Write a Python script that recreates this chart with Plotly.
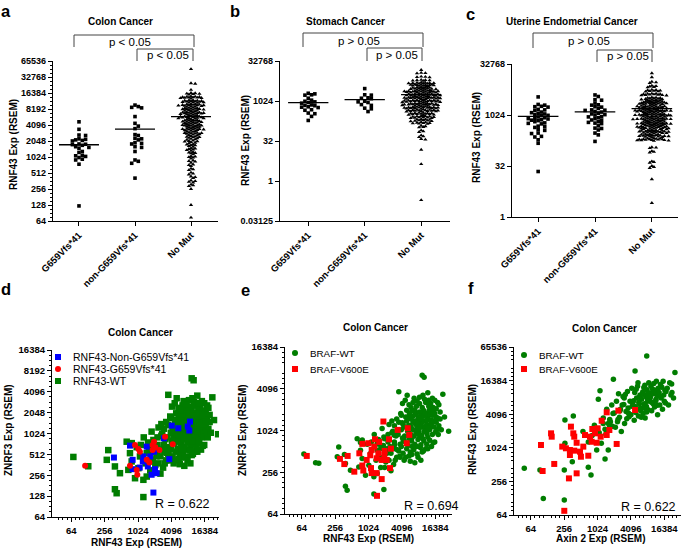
import numpy as np
import plotly.graph_objects as go

W, H = 685, 549
FONT = "Liberation Sans"

# ---------------- data (RSEM values) ----------------
mut_groups = ["G659Vfs*41", "non-G659Vfs*41", "No Mut"]

colon_g659 = [4700, 3400, 2650, 2600, 2250, 2200, 2150, 2100, 2050, 1800, 1780, 1750, 1700,
              1600, 1550, 1500, 1300, 1250, 1100, 1080, 1050, 1000, 930, 900, 750, 123]
colon_non = [9700, 9100, 8800, 8600, 5900, 4400, 3900, 3500, 2700, 2600, 2300, 2250, 2150,
             1900, 1850, 1800, 1600, 1550, 1300, 900, 850, 780, 410]
colon_nomut = [
    46000, 25000, 24500, 18800,
    16400, 16200, 16000, 15800, 15600, 15400,
    14200, 14000, 13900, 13800, 13700, 13600, 13500, 13400, 13300, 13200, 13100, 12900,
    12000, 11900, 11800, 11700, 11600, 11500, 11400, 11300, 11200, 11100, 11000, 10900, 10800, 10700,
    10200, 10100, 10000, 9900, 9800, 9750, 9700, 9650, 9600, 9500, 9400, 9300, 9200, 9100, 9000,
    8700, 8600, 8500, 8400, 8300, 8250, 8200, 8150, 8100, 8000, 7900, 7800, 7700, 7600, 7500, 7400,
    7200, 7100, 7050, 7000, 6950, 6900, 6850, 6800, 6750, 6700, 6650, 6600, 6500, 6400, 6300, 6200,
    6100, 6000, 5950, 5900, 5850, 5800, 5750, 5700, 5650, 5600, 5550, 5500, 5450, 5400, 5300, 5200,
    5100, 5050, 5000, 4950, 4900, 4850, 4800, 4750, 4700, 4650, 4600, 4550, 4500, 4450, 4400, 4350,
    4250, 4200, 4150, 4100, 4080, 4050, 4000, 3980, 3950, 3900, 3850, 3800, 3750, 3700, 3650,
    3550, 3500, 3480, 3450, 3420, 3400, 3380, 3350, 3300, 3250, 3200, 3150, 3100, 3050,
    2950, 2920, 2900, 2880, 2850, 2820, 2800, 2750, 2700, 2650, 2600, 2550,
    2480, 2450, 2420, 2400, 2350, 2300, 2250, 2200, 2150,
    2080, 2050, 2020, 2000, 1950, 1900, 1850,
    1780, 1750, 1720, 1700, 1650, 1600,
    1500, 1470, 1450, 1420, 1380, 1340,
    1270, 1240, 1220, 1200, 1150,
    1060, 1040, 1020, 1000, 960,
    880, 860, 840, 800,
    740, 720, 690,
    620, 600, 580,
    520, 500, 480,
    440, 430, 410,
    370, 360, 350, 340,
    310, 300, 290,
    256, 128, 74,
]

stomach_g659 = [2000, 1900, 1750, 1700, 1300, 1000, 950, 900, 850, 730, 700, 680, 620, 600,
                480, 460, 360, 340, 270, 190, 580, 1100]
stomach_non = [3000, 1750, 1700, 1350, 1300, 1250, 1000, 950, 900, 750, 700, 550, 520, 410]
stomach_nomut = [
    15000,
    11800, 11500, 11200,
    8500, 8300, 8100, 7900,
    6400, 6300, 6200, 6100, 6000, 5900,
    5100, 5000, 4950, 4900, 4850, 4800, 4750, 4700, 4650, 4600,
    4300, 4250, 4200, 4150, 4100, 4050, 4000, 3950, 3900, 3850, 3800, 3750,
    3400, 3350, 3300, 3250, 3200, 3150, 3100, 3050, 3000, 2950, 2900, 2850, 2800, 2750, 2700, 2650,
    2550, 2500, 2480, 2450, 2420, 2400, 2380, 2350, 2320, 2300, 2280, 2250, 2220, 2200, 2180, 2150, 2120, 2100,
    1950, 1920, 1900, 1880, 1860, 1840, 1820, 1800, 1780, 1760, 1740, 1720, 1700, 1680, 1660, 1640, 1620, 1600, 1580, 1560,
    1480, 1460, 1440, 1420, 1400, 1390, 1380, 1370, 1360, 1350, 1340, 1330, 1320, 1310, 1300, 1280, 1260, 1240, 1220, 1200,
    1120, 1100, 1090, 1080, 1070, 1060, 1050, 1040, 1030, 1020, 1010, 1000, 990, 980, 970, 960, 950, 940, 920, 900,
    850, 840, 830, 820, 810, 800, 790, 780, 775, 770, 765, 760, 750, 740, 730, 720, 710, 700, 690, 680,
    640, 630, 620, 610, 600, 595, 590, 585, 580, 575, 570, 565, 560, 555, 550, 540, 530, 520,
    490, 480, 475, 470, 465, 460, 455, 450, 445, 440, 435, 430, 425, 420, 415, 410,
    370, 365, 360, 355, 350, 345, 340, 335, 330, 325, 320, 315, 310, 305,
    280, 275, 270, 265, 260, 256, 252, 248, 244, 240, 236, 232,
    212, 208, 204, 200, 196, 192, 188, 184, 180, 176,
    165, 160, 156, 152, 150, 148, 145, 142,
    120, 115, 108, 104,
    80, 74, 70,
    52, 48, 45,
    38, 36,
    15, 4.3, 0.19,
]

uterine_g659 = [3500, 2100, 2000, 1850, 1800, 1750, 1500, 1450, 1400, 1250, 1200, 1150, 1050, 1000,
                980, 850, 820, 800, 780, 740, 720, 700, 600, 580, 560, 480, 460, 440, 380, 360,
                300, 290, 240, 230, 190, 150, 22, 650, 900, 1100]
uterine_non = [4000, 3600, 2900, 2800, 2300, 2050, 2000, 1800, 1750, 1450, 1400, 1420, 1150, 1100,
               1020, 920, 900, 730, 720, 650, 590, 570, 490, 420, 410, 370, 300, 265, 170, 1300,
               1250, 1600, 850, 800, 1050, 620]
uterine_nomut = [
    17500, 13300,
    9800, 9400, 9000,
    7500, 7300, 7100, 6900, 6700,
    5700, 5600, 5500, 5400, 5300, 5200, 5100, 5000,
    4400, 4350, 4300, 4250, 4200, 4150, 4100, 4050, 4000, 3950, 3900, 3850,
    3400, 3350, 3300, 3250, 3200, 3150, 3100, 3050, 3000, 2950, 2900, 2850, 2800, 2750, 2700, 2650,
    2600, 2560, 2520, 2480, 2450, 2420, 2400, 2380, 2350, 2320, 2300, 2280, 2250, 2220, 2200, 2180, 2150, 2120, 2100, 2080,
    1980, 1950, 1920, 1900, 1880, 1860, 1840, 1820, 1800, 1780, 1760, 1740, 1720, 1700, 1680, 1660, 1640, 1620, 1600, 1580, 1560, 1540,
    1500, 1480, 1460, 1440, 1420, 1410, 1400, 1390, 1380, 1370, 1360, 1350, 1340, 1330, 1320, 1310, 1300, 1280, 1260, 1240, 1220, 1200, 1180, 1160,
    1120, 1110, 1100, 1090, 1080, 1070, 1060, 1050, 1040, 1030, 1024, 1020, 1010, 1000, 990, 980, 970, 960, 950, 940, 930, 920, 910, 900,
    860, 850, 840, 830, 820, 810, 800, 795, 790, 785, 780, 775, 770, 765, 760, 750, 740, 730, 720, 710, 700, 690, 680, 670,
    650, 645, 640, 630, 620, 610, 600, 595, 590, 585, 580, 575, 570, 565, 560, 555, 550, 545, 540, 530, 520, 515, 510, 505,
    490, 485, 480, 475, 470, 465, 460, 455, 450, 445, 440, 435, 430, 425, 420, 415, 410, 405, 400, 395, 390, 385,
    370, 365, 360, 355, 350, 345, 340, 338, 335, 332, 330, 326, 322, 318, 314, 310, 306, 302, 298, 294,
    280, 276, 272, 268, 264, 260, 256, 252, 250, 248, 246, 244, 242, 240, 236, 232, 228, 224,
    212, 208, 205, 202, 200, 198, 196, 194, 192, 190, 188, 186, 184, 182, 180, 176,
    115, 112, 108,
    88, 84, 80,
    44, 42, 40,
    32, 30, 28,
    13, 2.6,
]

# Colon cancer, RNF43 (x) vs ZNRF3 (y) by RNF43 status
d_wt_rnf43 = [70, 130, 298, 280, 393, 484, 393, 422, 640, 734, 787, 905, 685, 1040, 1280, 1470, 1280,
              1800, 1940, 790, 970, 1110, 1470, 1650, 2200, 2600, 2100, 1700, 2900, 3300, 1300, 1550,
              1150, 2400, 2700, 1900, 2300, 3000, 3400, 2600, 3100, 1400, 2000, 5800, 7000, 9000, 4800,
              6200, 11000, 14000, 16000, 9500, 9500, 10300, 3600, 5100, 22400, 28500, 16500, 12000, 8500,
              14500, 6800, 10500, 16000, 18000, 4200, 5500, 6500, 7500, 8500, 9500, 11000, 12500, 13500,
              15000, 17000, 19000, 7000, 10000, 14000, 5000, 4000, 4800, 5600, 6400, 7200, 8000, 9000,
              10000, 11000, 12000, 13000, 14500, 16000, 18000, 8500, 6000, 3300, 20000, 3000, 3600, 4300,
              5000, 5700, 6500, 7300, 8200, 9200, 10300, 11500, 12800, 14000, 15500, 17000, 19000, 7800,
              6000, 10800, 13200, 2800, 3500, 4000, 4600, 5200, 5900, 6600, 7400, 8300, 9300, 10400, 11600,
              13000, 14500, 17500, 12000, 8800, 6200, 4200, 21000, 3000, 3800, 4500, 5300, 6100, 7000, 8000,
              9000, 10200, 11500, 13000, 15000, 5600, 7600, 3600, 4300, 5000, 5800, 6700, 7700, 8800, 10000,
              12000, 4000, 6300, 4500, 5500, 8000, 3800, 2300, 2500, 2200, 3200, 2700, 3900, 3100, 1700,
              1900, 2400, 1600, 4500, 5300, 6200, 7000, 7900, 8700, 9600, 10600, 11700, 12700, 13800, 15200,
              16800, 6800, 9800, 11000, 12200, 8200, 5600, 14800, 7700, 9800, 12500, 4700, 6000, 20000,
              18500, 24000]
d_wt_znrf3 = [470, 345, 590, 427, 343, 274, 161, 141, 780, 533, 405, 232, 306, 324, 220, 245, 124,
              1090, 826, 744, 650, 478, 533, 405, 560, 480, 360, 300, 330, 420, 900, 760,
              700, 1250, 950, 620, 700, 640, 540, 270, 380, 380, 300, 370, 350, 380, 420,
              460, 560, 600, 700, 500, 6400, 6000, 3700, 3300, 3400, 1000, 975, 3600, 3100,
              3000, 3000, 2900, 2800, 2600, 2500, 2400, 2600, 2300, 2500, 2200, 2600, 2300, 2500,
              2200, 2100, 2400, 2000, 2000, 1950, 2000, 1700, 1600, 1800, 1650, 1750, 1550, 1850,
              1650, 1800, 1600, 1750, 1700, 1800, 1550, 1900, 1500, 1500, 1900, 1200, 1350, 1250,
              1400, 1200, 1350, 1250, 1450, 1300, 1400, 1250, 1450, 1300, 1150, 1350, 1200, 1100,
              1150, 1150, 1200, 1000, 900, 1050, 850, 1000, 900, 1050, 950, 1000, 880, 1000, 920,
              1050, 900, 1050, 820, 820, 800, 800, 1050, 700, 650, 750, 620, 720, 650, 760,
              640, 720, 650, 740, 680, 780, 600, 520, 480, 560, 500, 540, 470, 580, 520,
              560, 600, 600, 380, 440, 420, 420, 900, 600, 480, 850, 1400, 1800, 560, 560,
              430, 380, 650, 1150, 1600, 1950, 1400, 1250, 1650, 1150, 1850, 1450, 2000, 1450, 1400,
              1600, 850, 780, 1000, 1100, 900, 1050, 1900, 2700, 3300, 2800, 2800, 2200, 1500,
              900, 1600]
d_non_rnf43 = [734, 377, 820, 820, 1280, 1250, 1470, 1540, 1700, 1990, 2070, 2220, 1800, 1940, 3000,
               3750, 4150, 5450, 8070, 8870, 8600, 1100]
d_non_znrf3 = [685, 461, 427, 313, 478, 405, 662, 343, 478, 560, 313, 274, 260, 144, 873,
               437, 1330, 1220, 1290, 1520, 1130, 330]
d_g659_rnf43 = [114, 905, 1040, 1110, 734, 970, 995, 1470, 1640, 1880, 1990, 2490, 3150, 4330, 1880, 2100]
d_g659_znrf3 = [350, 700, 613, 560, 350, 306, 260, 427, 391, 700, 780, 590, 923, 715, 590, 650]

# Colon cancer, RNF43 (x) vs ZNRF3 (y) by BRAF status (wild-type = panel d samples without V600E)
e_extra_wt_rnf43 = [3000, 3750, 4150, 5450, 8070, 8870, 8600, 1940, 114, 3150, 4330, 1990, 1470, 734, 377]
e_extra_wt_znrf3 = [873, 437, 1330, 1220, 1290, 1520, 1130, 144, 350, 923, 715, 780, 662, 685, 461]
e_v600e_rnf43 = [79, 313, 375, 431, 568, 792, 826, 792, 1017, 949, 1136, 1168, 1438, 1770, 1458, 1340,
                 1540, 1770, 1975, 2180, 2400, 1900, 3440, 5220, 5560, 5000, 1168, 1438, 2500, 2600,
                 1300, 1600, 2000, 700, 1100]
e_v600e_znrf3 = [440, 399, 336, 440, 261, 320, 271, 657, 671, 385, 294, 249, 249, 204, 117, 765,
                 481, 385, 455, 385, 765, 1380, 1045, 1105, 885, 671, 537, 407, 294, 560,
                 600, 700, 520, 480, 450]

# Colon cancer, Axin2 (x) vs RNF43 (y) by BRAF status
f_wt_axin2 = [49, 94, 108, 258, 258, 699, 782, 1400, 265, 375, 1136, 1060, 1980, 4870, 7900, 25500, 22200,
              265, 360, 1200, 1600, 990, 560, 700, 820, 900, 1100, 1300, 1500, 1700, 1900,
              1300, 1400, 1500, 1600, 1750, 1850, 1950, 1700, 1450,
              2050, 2150, 2250, 2350, 2450, 2550, 2650, 2750, 2850, 2950, 2400, 2600,
              3050, 3150, 3250, 3350, 3450, 3550, 3650, 3800, 3950, 4100, 4250, 4400, 3100, 3700, 4300,
              4600, 4700, 4800, 4900, 5000, 5200, 5400, 5600, 5800, 6000, 6200, 6400, 5100, 5300, 5500,
              5700, 5900, 6100, 6300,
              6600, 6800, 7000, 7200, 7400, 7600, 7800, 8000, 8200, 8400, 8600, 8800, 6700, 7100, 7300,
              7500, 7700, 7900, 8100, 8300, 8500,
              9100, 9400, 9700, 10000, 10300, 10600, 10900, 11200, 11500, 11800, 12100, 12400, 12700,
              9200, 9600, 10100, 10500, 11000, 11600, 12200,
              13200, 13600, 14000, 14400, 14800, 15200, 15600, 16000, 16400, 16800, 17200, 17600, 13800,
              18500, 19500, 20500, 21500, 22500, 24000]
f_wt_rnf43 = [440, 410, 127, 119, 410, 458, 333, 644, 3210, 3800, 10800, 7600, 17300, 24300, 45000, 23000, 14300,
              1235, 576, 1235, 936, 936, 2000, 1300, 1700, 2600, 1900, 2800, 2000, 3300, 2500,
              3500, 2200, 5000, 2800, 3000, 6000, 4200, 2500, 1800,
              4300, 2400, 7000, 3000, 9500, 3600, 5000, 2000, 6000, 8500, 3300, 4700,
              6100, 2800, 9200, 4600, 3400, 10500, 5300, 3700, 7000, 4000, 12000, 6600, 8000, 4300, 5700,
              7100, 3200, 10000, 5600, 4400, 8000, 13000, 3800, 6300, 9000, 4700, 7600, 11500, 5000, 15000,
              6700, 8500, 5300, 3600,
              9300, 4200, 12300, 6300, 3500, 8500, 5600, 11200, 7000, 4900, 15000, 7700, 10200, 6000, 13500,
              5200, 9000, 4500, 8000, 10000, 7300,
              8000, 13000, 4700, 10000, 6300, 14500, 5500, 11000, 7100, 16000, 9000, 4000, 12000,
              8500, 6700, 11500, 9500, 10500, 7600, 5900,
              10000, 6000, 14000, 8000, 12500, 5000, 16000, 9000, 7000, 11000, 6500, 10500, 8500,
              12000, 6000, 15000, 9000, 10000, 8000]
f_v600e_axin2 = [258, 313, 431, 105, 98, 149, 153, 170, 237, 276, 326, 340, 375, 390, 326, 390, 431, 495,
                 515, 568, 609, 699, 750, 826, 803, 923, 989, 1031, 1168, 1218, 1500, 1500, 1675, 2435,
                 2270, 4870]
f_v600e_rnf43 = [76, 290, 357, 393, 1150, 1860, 1620, 526, 1075, 1003, 936, 2450, 1860, 1620, 760, 910,
                 1260, 873, 709, 1075, 1734, 739, 1620, 2225, 1314, 1860, 1260, 2290, 1620, 3125, 1734,
                 4420, 2135, 4740, 1200, 4870]

# tick label values
a_yticks = [64, 128, 256, 512, 1024, 2048, 4096, 8192, 16384, 32768, 65536]
b_yticks = [0.03125, 1, 32, 1024, 32768]
c_yticks = [1, 32, 1024, 32768]
d_yticks = [64, 128, 256, 512, 1024, 2048, 4096, 8192, 16384]
e_yticks = [64, 256, 1024, 4096, 16384]
f_yticks = [64, 256, 1024, 4096, 16384, 65536]
scatter_xticks = [64, 256, 1024, 4096, 16384]

GREEN, RED, BLUE = "#007d00", "#ff0000", "#0000ff"

# ---------------- helpers ----------------
L2 = np.log10(2)


def fx(p):
    return p / W


def fy(p):
    return 1 - p / H


def swarm(vals, ppl, diam, step, half):
    """Beeswarm horizontal offsets (pixels) for a column of values on a log2 axis."""
    y = np.log2(np.asarray(vals, float)) * ppl
    order = np.argsort(-y, kind="stable")
    cands = [0.0]
    k = 1
    while k * step <= half + 1e-9:
        cands += [k * step, -k * step]
        k += 1
    px, py = [], []
    off = np.zeros(len(y))
    for i in order:
        yi = y[i]
        if px:
            ax, ay = np.array(px), np.array(py)
            m = np.abs(ay - yi) < diam
            nx, ny = ax[m], ay[m]
        else:
            nx = ny = np.array([])
        best, bestd = 0.0, -1.0
        for c in cands:
            dd = np.min(np.hypot(nx - c, ny - yi)) if len(nx) else 1e9
            if dd >= diam:
                best = c
                break
            if dd > bestd:
                bestd, best = dd, c
        off[i] = best
        px.append(best)
        py.append(yi)
    return off


def minor_vals(a, b, step):
    out = []
    k = a
    while k <= b + 1e-9:
        if abs(k - round(k)) > 1e-6:
            out.append(2 ** k)
        k += step
    return out


fig = go.Figure()
layout = dict(template="none", width=W, height=H, margin=dict(l=0, r=0, t=0, b=0, autoexpand=False),
              paper_bgcolor="white", plot_bgcolor="white", showlegend=False,
              font=dict(family=FONT, color="black"))
axis_common = dict(showline=True, linecolor="black", linewidth=1.2, ticks="outside", ticklen=4,
                   tickwidth=1, tickcolor="black", showgrid=False, zeroline=False, automargin=False,
                   tickfont=dict(family=FONT, size=9, color="black", weight="bold"))

# ---------------- top panels ----------------
top = [
    dict(n=1, data=[colon_g659, colon_non, colon_nomut], xd=(53, 218), yd=(61, 221),
         xr=(-0.464, 2.482), yr=(6, 16), ppl=16.0, ppu=56.0, yt=a_yticks, mstep=0.25, half=22),
    dict(n=2, data=[stomach_g659, stomach_non, stomach_nomut], xd=(280, 450), yd=(61, 221),
         xr=(-0.5, 2.51), yr=(-5, 15), ppl=8.0, ppu=56.5, yt=b_yticks, mstep=1.0, half=20),
    dict(n=3, data=[uterine_g659, uterine_non, uterine_nomut], xd=(512, 678), yd=(64, 217),
         xr=(-0.46, 2.46), yr=(0, 15), ppl=10.2, ppu=57.0, yt=c_yticks, mstep=1.0, half=20),
]

for p in top:
    n = p["n"]
    xa, ya = f"x{n}", f"y{n}"
    for gi, vals in enumerate(p["data"]):
        dense = gi == 2
        off = swarm(vals, p["ppl"], 2.2 if dense else 3.4, 2.1 if dense else 3.3,
                    p["half"] if dense else 13)
        fig.add_trace(go.Scatter(
            x=gi + off / p["ppu"], y=vals, mode="markers", xaxis=xa, yaxis=ya,
            marker=dict(symbol="triangle-up" if dense else "square", size=3.8 if dense else 3.6,
                        color="black", line=dict(width=0)),
            hoverinfo="skip"))
        mval = float(np.mean(vals))
        fig.add_trace(go.Scatter(x=[gi - 0.357, gi + 0.357], y=[mval, mval], mode="lines",
                                 xaxis=xa, yaxis=ya, line=dict(color="black", width=1.3),
                                 hoverinfo="skip"))
    sfx = "" if n == 1 else str(n)
    layout["xaxis" + sfx] = dict(axis_common, domain=[fx(p["xd"][0]), fx(p["xd"][1])],
                                 anchor=ya, range=list(p["xr"]), tickmode="array",
                                 tickvals=[0, 1, 2], ticktext=mut_groups, tickangle=-45,
                                 tickfont=dict(family=FONT, size=9.5, color="black", weight="bold"))
    layout["yaxis" + sfx] = dict(axis_common, domain=[fy(p["yd"][1]), fy(p["yd"][0])],
                                 anchor=xa, type="log",
                                 range=[p["yr"][0] * L2, p["yr"][1] * L2],
                                 tickmode="array", tickvals=p["yt"],
                                 ticktext=[f"{v:g}" for v in p["yt"]],
                                 minor=dict(tickmode="array",
                                            tickvals=minor_vals(p["yr"][0], p["yr"][1], p["mstep"]),
                                            ticks="outside", ticklen=2, tickcolor="black", tickwidth=1))

# ---------------- bottom scatter panels ----------------
bottom = [
    dict(n=4, xd=(52, 219), yd=(350, 517), xr=(4.85, 14.85), yr=(6, 14), yt=d_yticks),
    dict(n=5, xd=(285, 452), yd=(347, 514), xr=(5, 15), yr=(6, 14), yt=e_yticks),
    dict(n=6, xd=(514, 681), yd=(347, 515), xr=(5, 15), yr=(6, 16), yt=f_yticks),
]
for p in bottom:
    n = p["n"]
    layout[f"xaxis{n}"] = dict(axis_common, domain=[fx(p["xd"][0]), fx(p["xd"][1])],
                               anchor=f"y{n}", type="log",
                               range=[p["xr"][0] * L2, p["xr"][1] * L2], tickmode="array",
                               tickvals=scatter_xticks, ticktext=[str(v) for v in scatter_xticks],
                               tickfont=dict(family=FONT, size=9.5, color="black", weight="bold"),
                               minor=dict(tickmode="array", tickvals=minor_vals(5, 15, 0.25),
                                          ticks="outside", ticklen=2, tickcolor="black", tickwidth=1))
    layout[f"yaxis{n}"] = dict(axis_common, domain=[fy(p["yd"][1]), fy(p["yd"][0])],
                               anchor=f"x{n}", type="log",
                               range=[p["yr"][0] * L2, p["yr"][1] * L2], tickmode="array",
                               tickvals=p["yt"], ticktext=[str(v) for v in p["yt"]],
                               tickfont=dict(family=FONT, size=9.5, color="black", weight="bold"),
                               minor=dict(tickmode="array", tickvals=minor_vals(p["yr"][0], p["yr"][1], 0.25),
                                          ticks="outside", ticklen=2, tickcolor="black", tickwidth=1))


def pts(x, y, n, symbol, color, size):
    fig.add_trace(go.Scatter(x=x, y=y, mode="markers", xaxis=f"x{n}", yaxis=f"y{n}",
                             marker=dict(symbol=symbol, color=color, size=size, line=dict(width=0)),
                             hoverinfo="skip"))


pts(d_wt_rnf43, d_wt_znrf3, 4, "square", GREEN, 6.5)
pts(d_non_rnf43, d_non_znrf3, 4, "square", BLUE, 6)
pts(d_g659_rnf43, d_g659_znrf3, 4, "circle", RED, 6)

pts(d_wt_rnf43 + e_extra_wt_rnf43, d_wt_znrf3 + e_extra_wt_znrf3, 5, "circle", GREEN, 5.5)
pts(e_v600e_rnf43, e_v600e_znrf3, 5, "square", RED, 6)

pts(f_wt_axin2, f_wt_rnf43, 6, "circle", GREEN, 5.5)
pts(f_v600e_axin2, f_v600e_rnf43, 6, "square", RED, 6)

# ---------------- annotations ----------------
ann = []


def text(x, y, s, size=10, bold=True, angle=0, xanchor="center"):
    ann.append(dict(x=fx(x), y=fy(y), xref="paper", yref="paper", text=s, showarrow=False,
                    xanchor=xanchor, yanchor="middle", textangle=angle,
                    font=dict(family=FONT, size=size, color="black",
                              weight="bold" if bold else "normal")))


for lbl, x, y in [("a", 6, 11), ("b", 235, 11), ("c", 470, 14), ("d", 6, 289), ("e", 245, 290), ("f", 471, 288)]:
    text(x, y, lbl, size=16.5)

text(120, 21, "Colon Cancer")
text(345, 21, "Stomach Cancer")
text(572, 21, "Uterine Endometrial Cancer")
text(13, 145, "RNF43 Exp (RSEM)", angle=-90)
text(245, 141, "RNF43 Exp (RSEM)", angle=-90)
text(476, 138, "RNF43 Exp (RSEM)", angle=-90)

text(140, 332, "Colon Cancer")
text(375, 327, "Colon Cancer")
text(604, 328, "Colon Cancer")
text(8, 430, "ZNRF3 Exp (RSEM)", angle=-90)
text(242, 430, "ZNRF3 Exp (RSEM)", angle=-90)
text(472, 430, "RNF43 Exp (RSEM)", angle=-90)
text(136, 542, "RNF43 Exp (RSEM)")
text(368, 538, "RNF43 Exp (RSEM)")
text(600, 538, "Axin 2 Exp (RSEM)")

text(182, 504, "R = 0.622", size=12.5, bold=False)
text(431, 506, "R = 0.694", size=12.5, bold=False)
text(648, 507, "R = 0.622", size=12.5, bold=False)

# p-value brackets: (x_left, x_right, y_top, y_leg, text_x, text_y, label)
brackets = [
    (74, 194, 35, 47, 130, 42, "p < 0.05"), (137, 193, 49, 61, 168, 55, "p < 0.05"),
    (303, 423, 33, 47, 359, 41, "p > 0.05"), (367, 422, 48, 61, 397, 55, "p > 0.05"),
    (533, 653, 33, 48, 589, 41, "p > 0.05"), (597, 652, 50, 62, 628, 56, "p > 0.05"),
]
shapes = []
for x0, x1, yt, yl, tx, ty, lab in brackets:
    shapes.append(dict(type="path", xref="paper", yref="paper",
                       path=f"M {fx(x0)},{fy(yl)} L {fx(x0)},{fy(yt)} L {fx(x1)},{fy(yt)} L {fx(x1)},{fy(yl)}",
                       line=dict(color="#444444", width=1)))
    text(tx, ty, lab, size=11.5, bold=False)

# legends (marker glyph + label)
legend_items = [
    (58, 357, "square", BLUE, "RNF43-Non-G659Vfs*41", 10.5),
    (58, 369, "circle", RED, "RNF43-G659Vfs*41", 10.5),
    (58, 381, "square", GREEN, "RNF43-WT", 10.5),
    (295, 353, "circle", GREEN, "BRAF-WT", 9.8),
    (295, 369, "square", RED, "BRAF-V600E", 9.8),
    (524, 355, "circle", GREEN, "BRAF-WT", 9.8),
    (524, 369, "square", RED, "BRAF-V600E", 9.8),
]
for x, y, sym, col, lab, fs in legend_items:
    r = 3
    shapes.append(dict(type="rect" if sym == "square" else "circle", xref="paper", yref="paper",
                       x0=fx(x - r), x1=fx(x + r), y0=fy(y + r), y1=fy(y - r),
                       fillcolor=col, line=dict(width=0)))
    text(x + 13, y, lab, size=fs, bold=False, xanchor="left")

layout["annotations"] = ann
layout["shapes"] = shapes
fig.update_layout(**layout)
fig.write_html("out.html", config={"displayModeBar": False},
               post_script="document.body.style.margin='0';document.body.style.overflow='hidden';")
